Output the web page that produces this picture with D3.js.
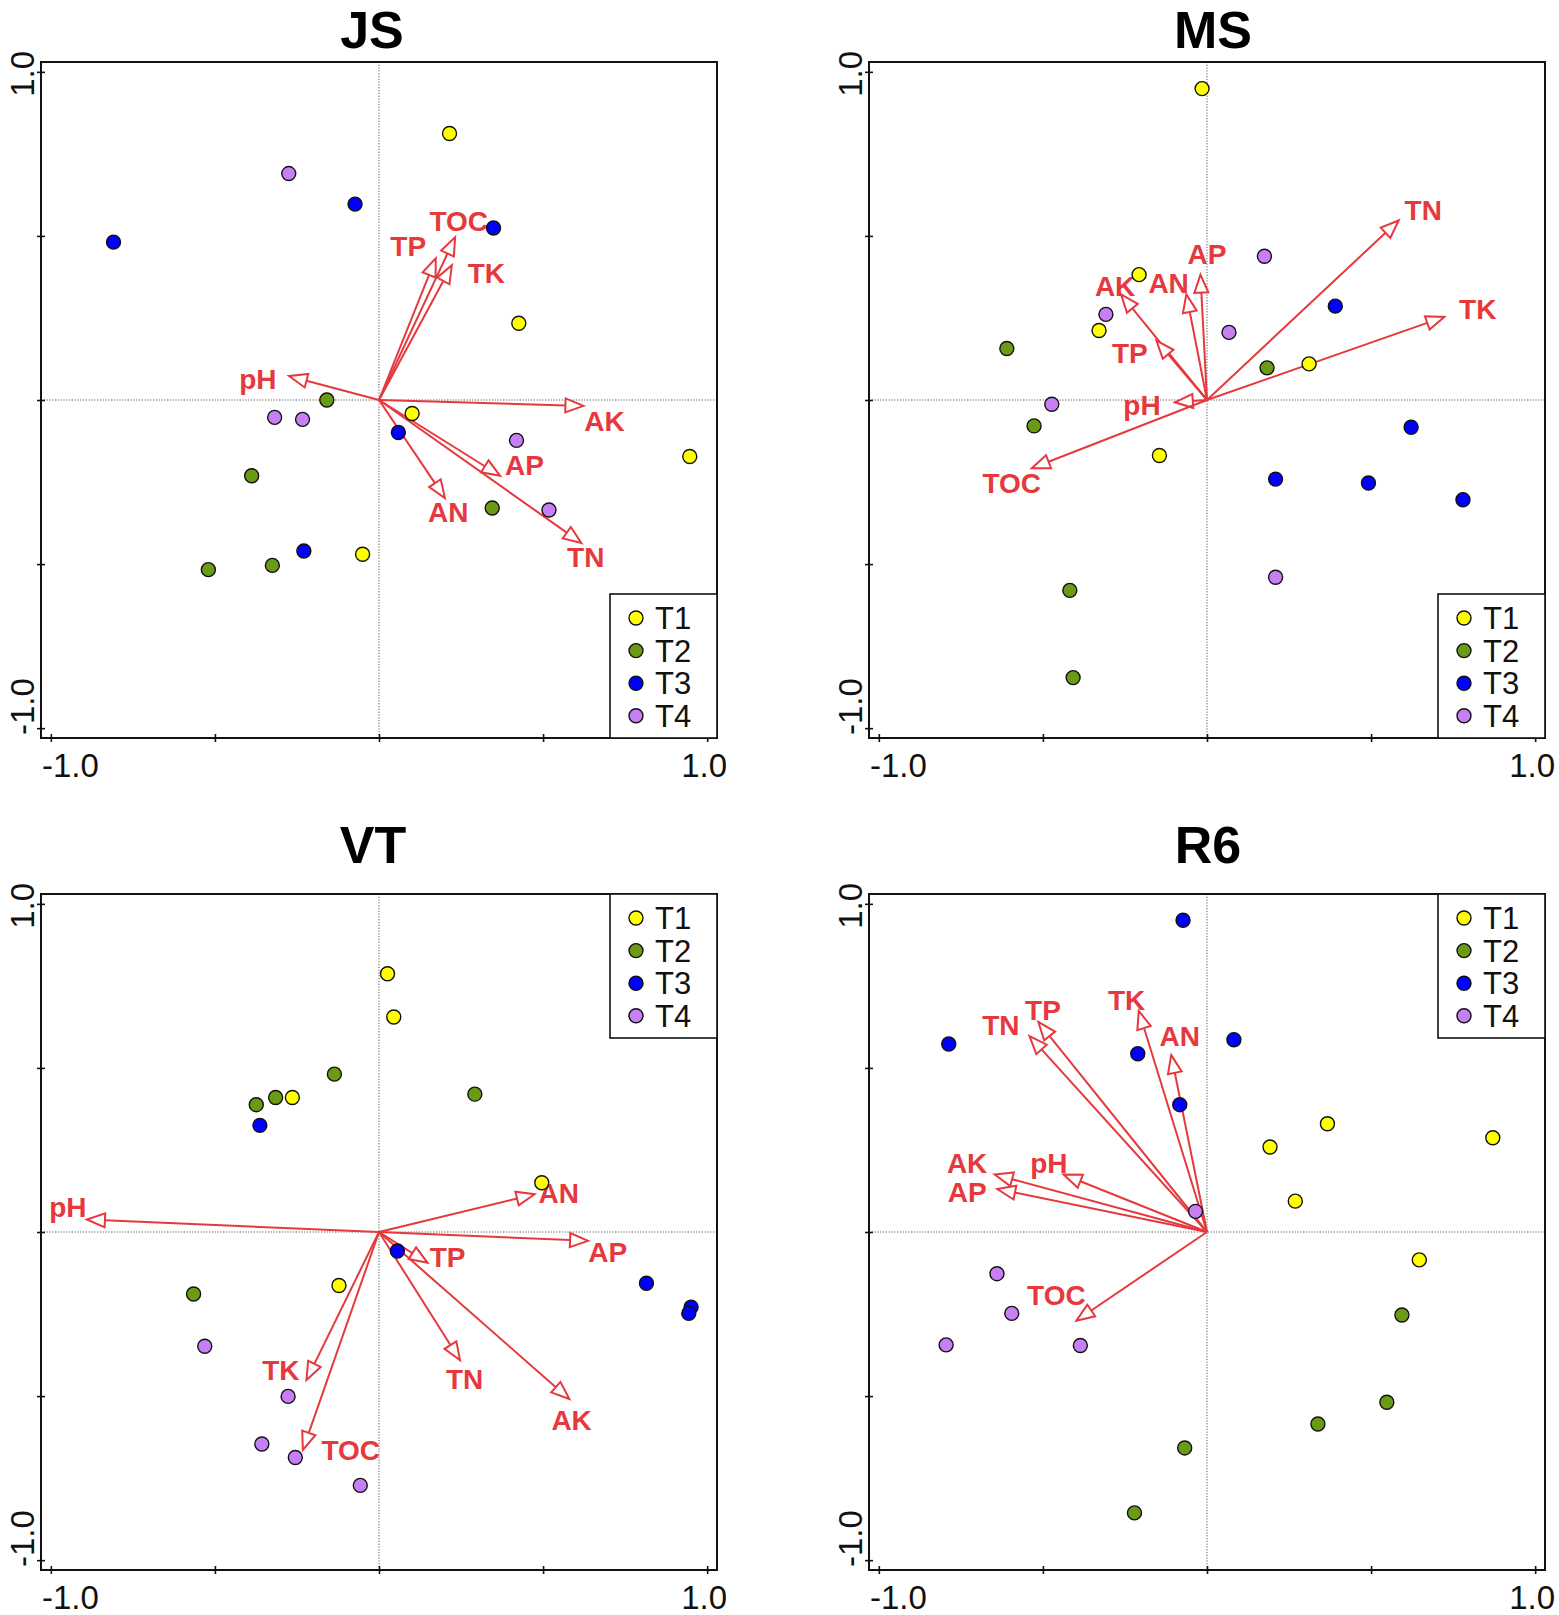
<!DOCTYPE html>
<html>
<head>
<meta charset="utf-8">
<script src="https://cdn.jsdelivr.net/npm/d3@7"></script>
<style>
  html, body { margin: 0; padding: 0; background: #fff; }
  svg { display: block; }
  text { font-family: "Liberation Sans", Arial, Helvetica, sans-serif; }
</style>
</head>
<body>
<svg id="chart" width="1559" height="1615"></svg>
<script>
// ---------- DATA ----------
const panelNames = ["JS", "MS", "VT", "R6"];
const groupNames = ["T1", "T2", "T3", "T4"];
const groupColors = ["#ffff00", "#6b9b14", "#0000ff", "#c77ff5"];
const tickValues = [-1, -0.5, 0, 0.5, 1];
const tickLabels = ["-1.0", "1.0"];

const siteGroup = ["T1","T1","T1","T1","T1","T2","T2","T2","T2","T2","T3","T3","T3","T3","T3","T4","T4","T4","T4","T4"];

// JS
const jsSiteX = [0.215, 0.426, 0.101, 0.947, -0.050,  -0.159, -0.388, 0.345, -0.520, -0.325,  -0.809, -0.073, 0.349, 0.059, -0.229,  -0.275, -0.318, -0.233, 0.419, 0.518];
const jsSiteY = [0.812, 0.234, -0.041, -0.172, -0.470,  0.000, -0.231, -0.329, -0.517, -0.504,  0.481, 0.597, 0.524, -0.099, -0.460,  0.690, -0.053, -0.059, -0.123, -0.335];
const jsEnvNames = ["TOC", "TP", "TK", "pH", "AK", "AP", "AN", "TN"];
const jsEnvX = [0.232, 0.173, 0.222, -0.274, 0.623, 0.369, 0.201, 0.617];
const jsEnvY = [0.496, 0.432, 0.411, 0.073, -0.018, -0.231, -0.299, -0.436];
const jsLabelX = [0.243, 0.089, 0.327, -0.369, 0.687, 0.443, 0.211, 0.630];
const jsLabelY = [0.543, 0.467, 0.387, 0.062, -0.064, -0.200, -0.344, -0.481];

// MS
const msSiteX = [-0.015, -0.207, -0.329, 0.311, -0.145,  -0.610, -0.527, 0.183, -0.418, -0.408,  0.391, 0.622, 0.209, 0.492, 0.780,  0.175, -0.308, 0.067, -0.473, 0.209];
const msSiteY = [0.949, 0.382, 0.212, 0.110, -0.169,  0.157, -0.079, 0.098, -0.580, -0.846,  0.286, -0.083, -0.241, -0.253, -0.304,  0.438, 0.261, 0.206, -0.013, -0.540];
const msEnvNames = ["TN", "TK", "AP", "AN", "AK", "TP", "pH", "TOC"];
const msEnvX = [0.584, 0.723, -0.020, -0.063, -0.262, -0.154, -0.098, -0.534];
const msEnvY = [0.547, 0.253, 0.382, 0.322, 0.322, 0.181, -0.007, -0.208];
const msLabelX = [0.659, 0.825, 0.000, -0.117, -0.280, -0.235, -0.198, -0.595];
const msLabelY = [0.576, 0.277, 0.442, 0.355, 0.346, 0.141, -0.016, -0.255];

// VT
const vtSiteX = [0.026, 0.045, -0.264, 0.496, -0.122,  -0.136, -0.374, -0.315, 0.292, -0.565,  -0.363, 0.056, 0.815, 0.951, 0.944,  -0.531, -0.277, -0.357, -0.255, -0.057];
const vtSiteY = [0.787, 0.655, 0.410, 0.150, -0.163,  0.481, 0.388, 0.410, 0.420, -0.189,  0.325, -0.058, -0.156, -0.229, -0.248,  -0.348, -0.501, -0.646, -0.687, -0.772];
const vtEnvNames = ["pH", "AN", "AP", "TP", "TN", "AK", "TK", "TOC"];
const vtEnvX = [-0.890, 0.474, 0.637, 0.148, 0.247, 0.580, -0.221, -0.232];
const vtEnvY = [0.038, 0.115, -0.027, -0.094, -0.391, -0.509, -0.451, -0.664];
const vtLabelX = [-0.948, 0.548, 0.697, 0.209, 0.261, 0.587, -0.299, -0.086];
const vtLabelY = [0.074, 0.117, -0.061, -0.078, -0.449, -0.573, -0.422, -0.667];

// R6
const r6SiteX = [0.367, 0.192, 0.871, 0.269, 0.647,  0.594, 0.548, 0.338, -0.068, -0.221,  -0.073, -0.787, -0.211, 0.082, -0.083,  -0.035, -0.640, -0.595, -0.795, -0.386];
const r6SiteY = [0.330, 0.259, 0.287, 0.094, -0.085,  -0.253, -0.519, -0.585, -0.658, -0.856,  0.950, 0.573, 0.543, 0.586, 0.388,  0.063, -0.127, -0.248, -0.344, -0.346];
const r6EnvNames = ["TN", "TP", "TK", "AN", "AK", "AP", "pH", "TOC"];
const r6EnvX = [-0.541, -0.514, -0.208, -0.109, -0.647, -0.639, -0.437, -0.398];
const r6EnvY = [0.597, 0.640, 0.674, 0.539, 0.175, 0.131, 0.175, -0.270];
const r6LabelX = [-0.628, -0.500, -0.245, -0.083, -0.731, -0.731, -0.482, -0.459];
const r6LabelY = [0.629, 0.674, 0.705, 0.596, 0.209, 0.121, 0.209, -0.195];

// ---------- LAYOUT ----------
const SIZE = 676;
const layout = [
  { name: "JS", x0: 41,  y0: 62,  legend: "bottom", titleY: 47.5, titleDx: -7,
    sx: jsSiteX, sy: jsSiteY, en: jsEnvNames, ex: jsEnvX, ey: jsEnvY, lx: jsLabelX, ly: jsLabelY },
  { name: "MS", x0: 869, y0: 62,  legend: "bottom", titleY: 47.5, titleDx: 6,
    sx: msSiteX, sy: msSiteY, en: msEnvNames, ex: msEnvX, ey: msEnvY, lx: msLabelX, ly: msLabelY },
  { name: "VT", x0: 41,  y0: 894, legend: "top", titleY: 863, titleDx: -6,
    sx: vtSiteX, sy: vtSiteY, en: vtEnvNames, ex: vtEnvX, ey: vtEnvY, lx: vtLabelX, ly: vtLabelY },
  { name: "R6", x0: 869, y0: 894, legend: "top", titleY: 863, titleDx: 1,
    sx: r6SiteX, sy: r6SiteY, en: r6EnvNames, ex: r6EnvX, ey: r6EnvY, lx: r6LabelX, ly: r6LabelY }
];

const RED = "#e5393e";
const color = d3.scaleOrdinal().domain(groupNames).range(groupColors);
const svg = d3.select("#chart");

layout.forEach(p => {
  const x = d3.scaleLinear().domain([-1.03, 1.03]).range([p.x0, p.x0 + SIZE]);
  const y = d3.scaleLinear().domain([-1.03, 1.03]).range([p.y0 + SIZE, p.y0]);
  const g = svg.append("g");

  // dotted zero lines
  g.append("line").attr("x1", x(0)).attr("x2", x(0)).attr("y1", y(-1.03)).attr("y2", y(1.03))
    .attr("stroke", "#555").attr("stroke-width", 1).attr("stroke-dasharray", "1.2,1.6");
  g.append("line").attr("x1", x(-1.03)).attr("x2", x(1.03)).attr("y1", y(0)).attr("y2", y(0))
    .attr("stroke", "#555").attr("stroke-width", 1).attr("stroke-dasharray", "1.2,1.6");

  // arrows
  const env = p.en.map((n, i) => ({ n, x: p.ex[i], y: p.ey[i], lx: p.lx[i], ly: p.ly[i] }));
  const HL = 18, HW = 7;
  env.forEach(d => {
    const x1 = x(0), y1 = y(0), x2 = x(d.x), y2 = y(d.y);
    const len = Math.hypot(x2 - x1, y2 - y1);
    const ux = (x2 - x1) / len, uy = (y2 - y1) / len;
    const bx = x2 - ux * HL, by = y2 - uy * HL;
    g.append("line").attr("x1", x1).attr("y1", y1).attr("x2", bx).attr("y2", by)
      .attr("stroke", RED).attr("stroke-width", 2);
    const pts = [[x2, y2], [bx - uy * HW, by + ux * HW], [bx + uy * HW, by - ux * HW]];
    g.append("path").attr("d", "M" + pts.map(q => q.join(",")).join("L") + "Z")
      .attr("fill", "#fff").attr("stroke", RED).attr("stroke-width", 2).attr("stroke-linejoin", "miter");
  });
  g.selectAll("text.env").data(env).enter().append("text").attr("class", "env")
    .attr("x", d => x(d.lx)).attr("y", d => y(d.ly))
    .attr("text-anchor", "middle").attr("dominant-baseline", "central")
    .attr("font-size", 28).attr("font-weight", "bold").attr("fill", RED)
    .text(d => d.n);

  // sites
  const sites = p.sx.map((v, i) => ({ x: v, y: p.sy[i], g: siteGroup[i] }));
  g.selectAll("circle.site").data(sites).enter().append("circle").attr("class", "site")
    .attr("cx", d => x(d.x)).attr("cy", d => y(d.y)).attr("r", 7)
    .attr("fill", d => color(d.g)).attr("stroke", "#111").attr("stroke-width", 1.4);

  // frame
  g.append("rect").attr("x", x(-1.03)).attr("y", y(1.03)).attr("width", SIZE).attr("height", SIZE)
    .attr("fill", "none").attr("stroke", "#111").attr("stroke-width", 2);

  // axes ticks (crossing the frame)
  const bottom = g.append("g").attr("transform", `translate(0,${y(-1.03)})`)
    .call(d3.axisBottom(x).tickValues(tickValues).tickSize(4).tickFormat(""));
  bottom.select(".domain").remove();
  bottom.selectAll(".tick line").attr("y1", -4).attr("y2", 4).attr("stroke", "#111").attr("stroke-width", 1.6);
  const left = g.append("g").attr("transform", `translate(${x(-1.03)},0)`)
    .call(d3.axisLeft(y).tickValues(tickValues).tickSize(4).tickFormat(""));
  left.select(".domain").remove();
  left.selectAll(".tick line").attr("x1", -4).attr("x2", 4).attr("stroke", "#111").attr("stroke-width", 1.6);

  // tick labels
  const fs = 33;
  g.append("text").attr("x", x(-1.03) + 1).attr("y", y(-1.03) + 39)
    .attr("font-size", fs).attr("text-anchor", "start").attr("fill", "#111").text(tickLabels[0]);
  g.append("text").attr("x", x(1.03) + 10).attr("y", y(-1.03) + 39)
    .attr("font-size", fs).attr("text-anchor", "end").attr("fill", "#111").text(tickLabels[1]);
  g.append("text").attr("transform", `translate(${x(-1.03) - 7},${y(-1.03) - 3}) rotate(-90)`)
    .attr("font-size", fs).attr("text-anchor", "start").attr("fill", "#111").text(tickLabels[0]);
  g.append("text").attr("transform", `translate(${x(-1.03) - 7},${y(1) + 2}) rotate(-90)`)
    .attr("font-size", fs).attr("text-anchor", "middle").attr("fill", "#111").text(tickLabels[1]);

  // title
  g.append("text").attr("x", x(0) + p.titleDx).attr("y", p.titleY)
    .attr("font-size", 52).attr("font-weight", "bold").attr("text-anchor", "middle").attr("fill", "#000")
    .text(p.name);

  // legend
  const LW = 107, LH = 144;
  const lRight = x(1.03);
  const lTop = p.legend === "bottom" ? y(-1.03) - LH : y(1.03);
  const lg = g.append("g");
  lg.append("rect").attr("x", lRight - LW).attr("y", lTop).attr("width", LW).attr("height", LH)
    .attr("fill", "#fff").attr("stroke", "#111").attr("stroke-width", 1.6);
  groupNames.forEach((gn, i) => {
    const cy = lTop + 24 + i * 32.6;
    lg.append("circle").attr("cx", lRight - 81).attr("cy", cy).attr("r", 7)
      .attr("fill", color(gn)).attr("stroke", "#111").attr("stroke-width", 1.4);
    lg.append("text").attr("x", lRight - 62).attr("y", cy + 11)
      .attr("font-size", 31).attr("fill", "#111").text(gn);
  });
});
</script>
</body>
</html>
